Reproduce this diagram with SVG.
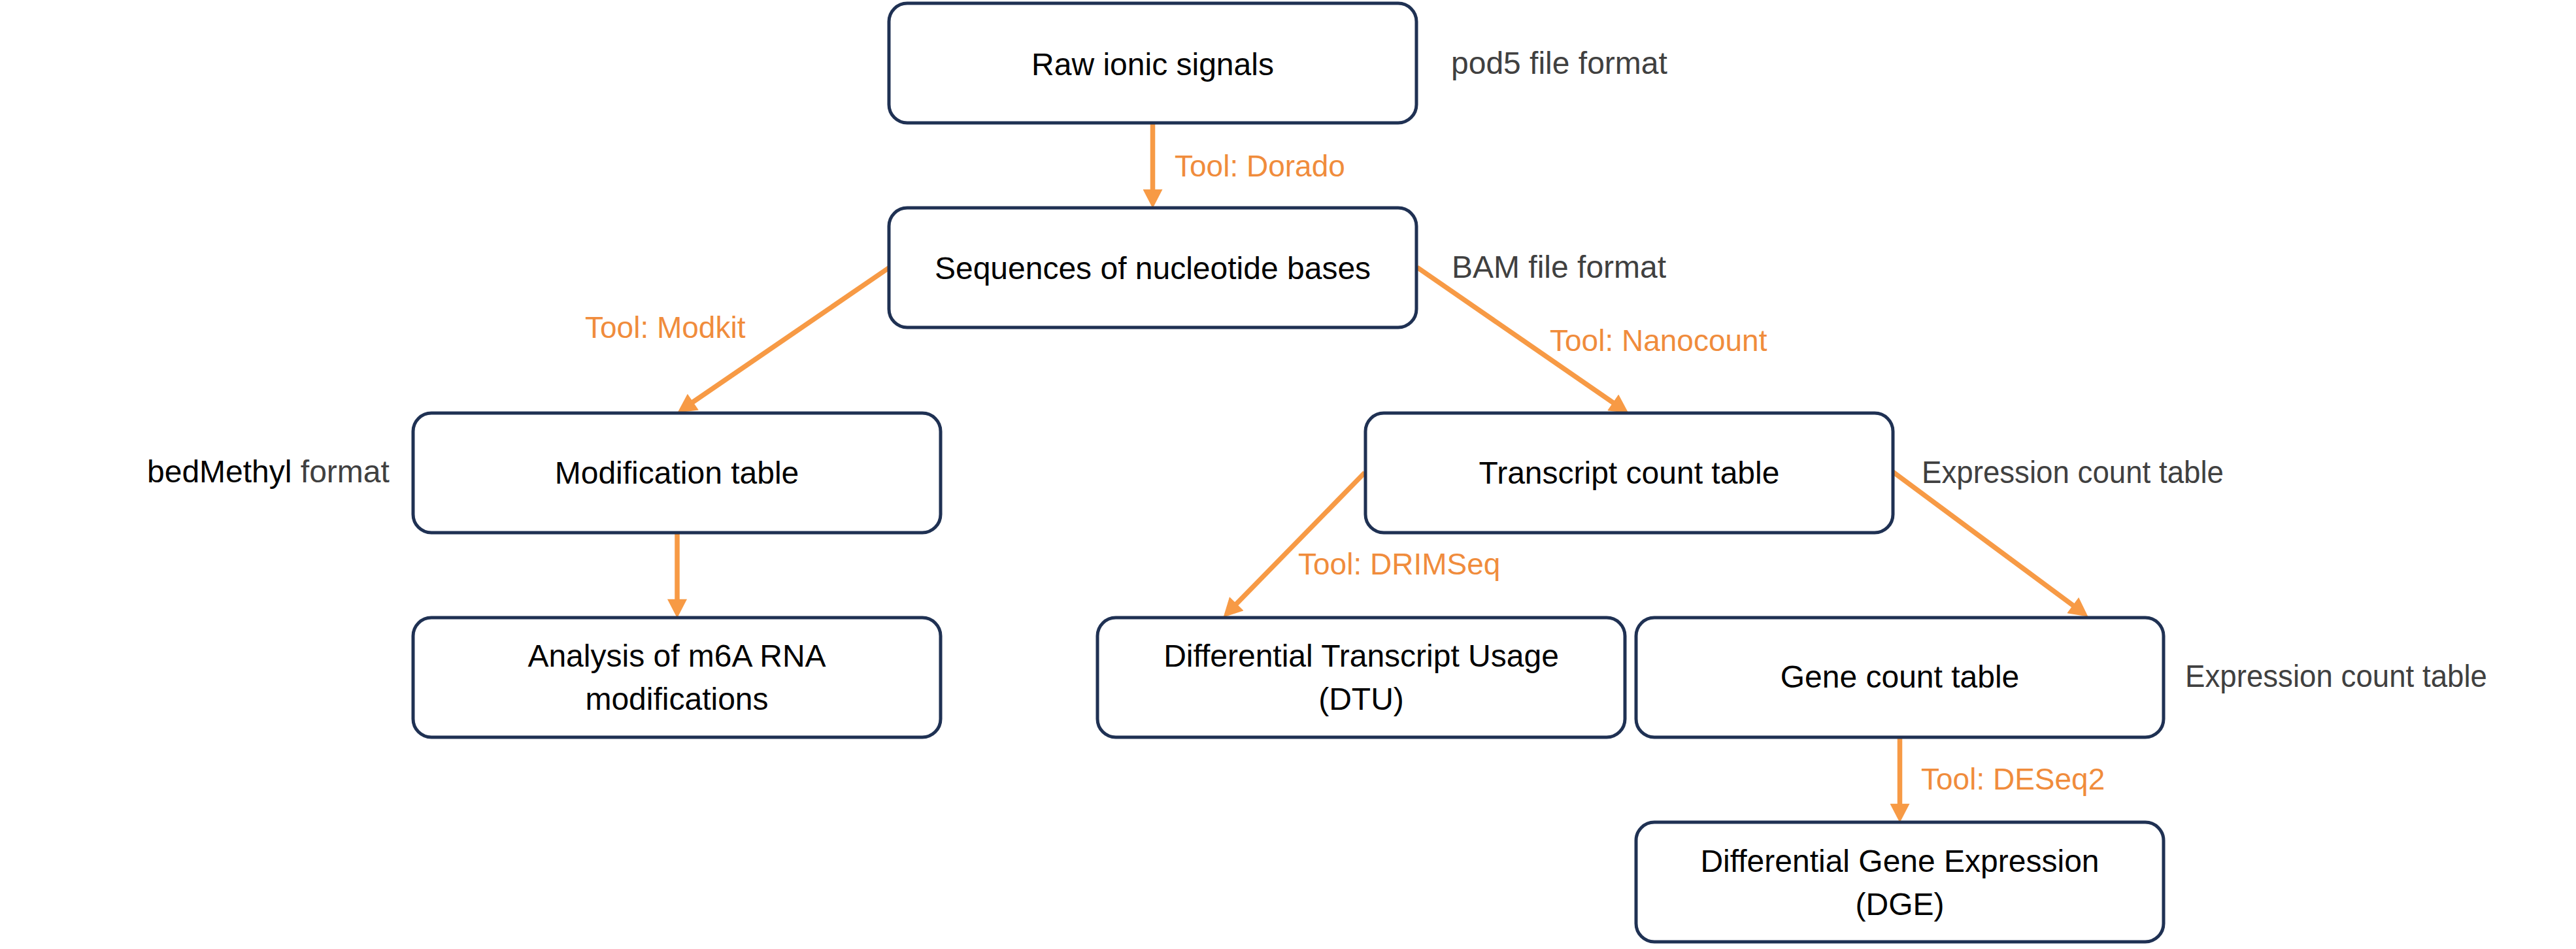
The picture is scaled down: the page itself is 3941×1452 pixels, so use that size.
<svg xmlns="http://www.w3.org/2000/svg" width="3941" height="1452" viewBox="0 0 3941 1452">
<style>
  .box { fill: #FFFFFF; stroke: #1F3153; stroke-width: 5; }
  .t { font-family: "Liberation Sans", Arial, sans-serif; font-size: 48px; fill: #000000; text-anchor: middle; }
  .side { font-family: "Liberation Sans", Arial, sans-serif; font-size: 48px; fill: #404040; }
  .blk { fill: #000000; }
  .tool { font-family: "Liberation Sans", Arial, sans-serif; font-size: 46px; fill: #F08C3C; }
  .conn { fill: none; stroke: #F79A45; stroke-width: 7.5; marker-end: url(#arrow); }
</style>
<defs>
  <marker id="arrow" markerUnits="userSpaceOnUse" markerWidth="30" markerHeight="30" viewBox="0 0 28 29" refX="8" refY="14.5" orient="auto">
    <path d="M0,0 L28,14.5 L0,29 z" fill="#F79A45"/>
  </marker>
</defs>
<rect width="3941" height="1452" fill="#FFFFFF"/>

<g id="connectors">
  <line class="conn" x1="1763.5" y1="188" x2="1763.5" y2="298"/>
  <line class="conn" x1="1361" y1="409" x2="1053.5" y2="619.7"/>
  <line class="conn" x1="2168" y1="409" x2="2474.5" y2="620.6"/>
  <line class="conn" x1="1036" y1="816" x2="1036" y2="925"/>
  <line class="conn" x1="2088" y1="723" x2="1886" y2="929.7"/>
  <line class="conn" x1="2896" y1="722" x2="3177.9" y2="931.1"/>
  <line class="conn" x1="2906.5" y1="1128" x2="2906.5" y2="1238"/>
  <text class="tool" x="1797" y="270">Tool: Dorado</text>
  <text class="tool" x="895" y="517">Tool: Modkit</text>
  <text class="tool" x="2371" y="537">Tool: Nanocount</text>
  <text class="tool" x="1986" y="879">Tool: DRIMSeq</text>
  <text class="tool" x="2939" y="1208">Tool: DESeq2</text>
</g>

<g id="raw">
  <rect class="box" x="1360" y="5" width="807" height="183" rx="28" ry="28"/>
  <text class="t" x="1763.5" y="115">Raw ionic signals</text>
  <text class="side" x="2220" y="113">pod5 file format</text>
</g>

<g id="sequences">
  <rect class="box" x="1360" y="318" width="807" height="183" rx="28" ry="28"/>
  <text class="t" x="1763.5" y="427">Sequences of nucleotide bases</text>
  <text class="side" x="2221" y="425">BAM file format</text>
</g>

<g id="modification">
  <rect class="box" x="632" y="632" width="807" height="183" rx="28" ry="28"/>
  <text class="t" x="1035.5" y="740">Modification table</text>
  <text class="side" x="225" y="738"><tspan class="blk">bedMethyl</tspan> format</text>
</g>

<g id="analysis">
  <rect class="box" x="632" y="945" width="807" height="183" rx="28" ry="28"/>
  <text class="t" x="1035.5" y="1020">Analysis of m6A RNA</text>
  <text class="t" x="1035.5" y="1086">modifications</text>
</g>

<g id="transcript">
  <rect class="box" x="2089" y="632" width="807" height="183" rx="28" ry="28"/>
  <text class="t" x="2492.5" y="740">Transcript count table</text>
  <text class="side" x="2940" y="739" textLength="462" lengthAdjust="spacingAndGlyphs">Expression count table</text>
</g>

<g id="dtu">
  <rect class="box" x="1679" y="945" width="807" height="183" rx="28" ry="28"/>
  <text class="t" x="2082.5" y="1020">Differential Transcript Usage</text>
  <text class="t" x="2082.5" y="1086">(DTU)</text>
</g>

<g id="gene">
  <rect class="box" x="2503" y="945" width="807" height="183" rx="28" ry="28"/>
  <text class="t" x="2906.5" y="1052">Gene count table</text>
  <text class="side" x="3343" y="1051" textLength="462" lengthAdjust="spacingAndGlyphs">Expression count table</text>
</g>

<g id="dge">
  <rect class="box" x="2503" y="1258" width="807" height="183" rx="28" ry="28"/>
  <text class="t" x="2906.5" y="1334">Differential Gene Expression</text>
  <text class="t" x="2906.5" y="1400">(DGE)</text>
</g>
</svg>
